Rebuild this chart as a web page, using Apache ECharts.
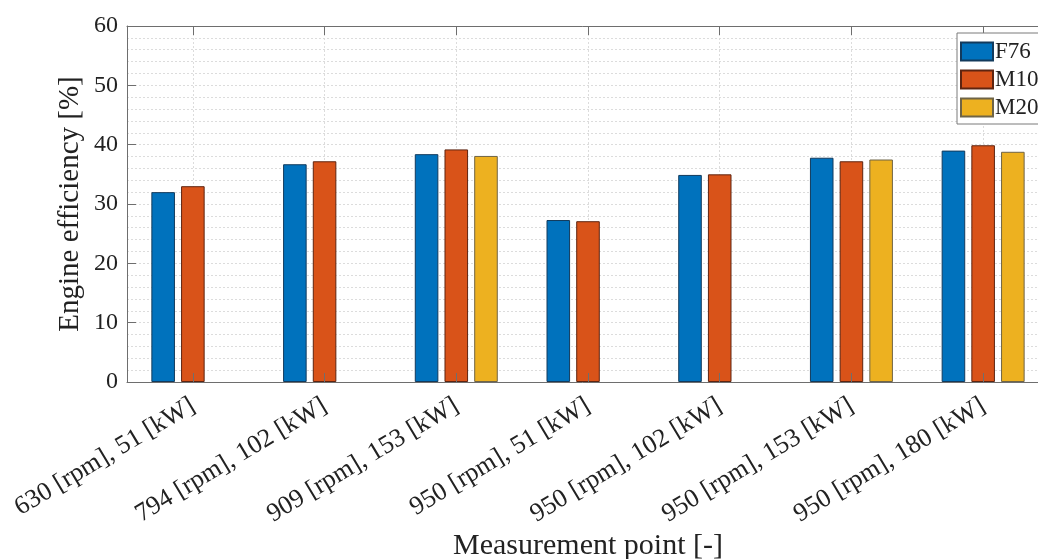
<!DOCTYPE html>
<html>
<head>
<meta charset="utf-8">
<script src="https://cdn.jsdelivr.net/npm/echarts@6/dist/echarts.min.js"></script>
<style>
  html, body { margin: 0; padding: 0; background: #ffffff; }
  #chart { width: 1038px; height: 559px; }
</style>
</head>
<body>
<div id="chart"></div>
<script>
// Operating points (engine speed, power)
const categories = [
  '630 [rpm], 51 [kW]',
  '794 [rpm], 102 [kW]',
  '909 [rpm], 153 [kW]',
  '950 [rpm], 51 [kW]',
  '950 [rpm], 102 [kW]',
  '950 [rpm], 153 [kW]',
  '950 [rpm], 180 [kW]'
];
// Engine efficiency [%] per fuel; null = not measured
const F76 = [32.0, 36.7, 38.4, 27.3, 34.9, 37.8, 39.0];
const M10 = [33.0, 37.2, 39.2, 27.1, 35.0, 37.2, 39.9];
const M20 = [null, null, 38.1, null, null, 37.5, 38.8];
const yTicks = [0, 10, 20, 30, 40, 50, 60];

const FONT = '"Liberation Serif", "DejaVu Serif", serif';
const AXIS = '#6e6e6e';
const GRID = '#dcdcdc';
const TEXT = '#222222';

function barSeries(name, data, color, edge) {
  return {
    name: name,
    type: 'bar',
    data: data,
    barGap: '26%',
    barCategoryGap: '37%',
    itemStyle: { color: color, borderColor: edge, borderWidth: 1 }
  };
}

const chart = echarts.init(document.getElementById('chart'), null, { renderer: 'canvas' });
chart.setOption({
  backgroundColor: '#ffffff',
  animation: false,
  textStyle: { fontFamily: FONT },
  // plot box runs past the right edge of the canvas
  grid: { left: 127, top: 26, bottom: 177, right: -11, containLabel: false, outerBoundsMode: 'none' },
  legend: {
    left: 957, top: 33,
    orient: 'vertical',
    icon: 'rect',
    itemWidth: 32, itemHeight: 18, itemGap: 5,
    padding: [7, 10, 5, 3],
    backgroundColor: '#ffffff',
    borderColor: '#7a7a7a', borderWidth: 1,
    textStyle: { fontFamily: FONT, fontSize: 23, lineHeight: 20, color: TEXT, padding: [0, 0, 0, -3] },
    data: ['F76', 'M10', 'M20']
  },
  xAxis: [
    {
      // bottom axis: labels, ticks drawn over the bars
      type: 'category',
      data: categories,
      z: 5,
      name: 'Measurement point [-]',
      nameLocation: 'middle',
      nameGap: 149,
      nameMoveOverlap: false,
      nameTextStyle: { fontFamily: FONT, fontSize: 30, color: TEXT },
      axisLine: { show: true, lineStyle: { color: AXIS, width: 1 } },
      axisTick: { show: true, inside: true, length: 9, interval: 0, alignWithLabel: true, lineStyle: { color: AXIS } },
      axisLabel: { rotate: 31, margin: 22, interval: 0, fontFamily: FONT, fontSize: 26, color: TEXT },
      splitLine: { show: false }
    },
    {
      // top box edge, with vertical grid lines at each category
      type: 'category',
      data: categories,
      position: 'top',
      axisLine: { show: true, lineStyle: { color: AXIS, width: 1 } },
      axisTick: { show: true, inside: true, length: 9, interval: 0, alignWithLabel: true, lineStyle: { color: AXIS } },
      axisLabel: { show: false, interval: 0 },
      splitLine: { show: true, interval: 0, alignWithLabel: true, lineStyle: { color: GRID, type: [2, 2] } }
    }
  ],
  yAxis: {
    type: 'value',
    min: 0, max: 60, interval: 10,
    name: 'Engine efficiency [%]',
    nameLocation: 'middle',
    nameGap: 42,
    nameMoveOverlap: false,
    nameTextStyle: { fontFamily: FONT, fontSize: 29, color: TEXT },
    axisLine: { show: true, lineStyle: { color: AXIS, width: 1 } },
    axisTick: { show: true, inside: true, length: 9, lineStyle: { color: AXIS } },
    axisLabel: {
      margin: 9, fontFamily: FONT, fontSize: 24, color: TEXT,
      formatter: v => (yTicks.indexOf(v) >= 0 ? String(v) : '')
    },
    splitLine: { show: true, lineStyle: { color: GRID, type: [2, 2] } },
    minorTick: { show: false, splitNumber: 5 },
    minorSplitLine: { show: true, lineStyle: { color: GRID, type: [2, 2] } }
  },
  series: [
    barSeries('F76', F76, '#0072BD', '#123a5c'),
    barSeries('M10', M10, '#D95319', '#5e2410'),
    barSeries('M20', M20, '#EDB120', '#6f6446')
  ]
});
</script>
</body>
</html>
